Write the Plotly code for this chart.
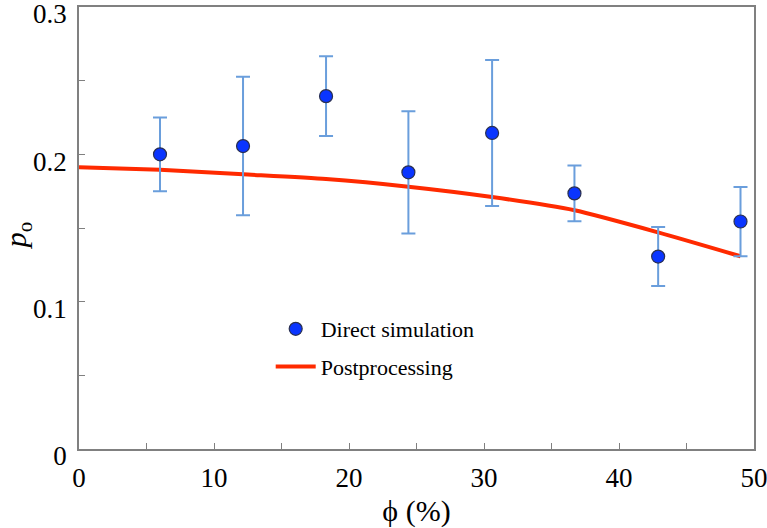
import plotly.graph_objects as go

# Direct simulation data
phi_sim = [6.0, 12.15, 18.3, 24.4, 30.6, 36.7, 42.9, 49.0]
p_sim = [0.200, 0.2056, 0.2395, 0.1878, 0.2145, 0.1735, 0.1306, 0.1544]
p_err = [0.025, 0.047, 0.027, 0.0415, 0.0495, 0.019, 0.020, 0.0235]

# Postprocessing curve
phi_post = [0, 6.0, 12.15, 18.3, 24.4, 30.6, 36.7, 42.9, 49.0]
p_post = [0.1913, 0.1895, 0.1864, 0.1832, 0.1780, 0.1710, 0.1620, 0.1470, 0.1308]

x_ticks = [0, 10, 20, 30, 40, 50]
y_ticks = [0, 0.1, 0.2, 0.3]
y_tick_labels = ["0", "0.1", "0.2", "0.3"]

font_family = "Liberation Serif, Times New Roman, serif"

fig = go.Figure()

fig.add_trace(go.Scatter(
    x=phi_post, y=p_post, mode="lines", name="Postprocessing",
    line=dict(color="#ff2a00", width=4, shape="spline", smoothing=0.6),
    legendgroup="b", legendrank=2,
))

fig.add_trace(go.Scatter(
    x=phi_sim, y=p_sim, mode="markers", name="Direct simulation",
    marker=dict(color="#0a35ff", size=13, line=dict(color="#2a3050", width=1.2)),
    error_y=dict(type="data", array=p_err, visible=True, color="#6a9edc",
                 thickness=2, width=7),
    legendgroup="a", legendrank=1,
))

fig.update_layout(
    width=767, height=528,
    margin=dict(l=79, r=13, t=7, b=79),
    paper_bgcolor="white", plot_bgcolor="white",
    font=dict(family=font_family, color="black"),
    showlegend=True,
    legend=dict(
        x=0.284, y=0.319, xanchor="left", yanchor="top",
        font=dict(size=22, family=font_family),
        bgcolor="rgba(0,0,0,0)", traceorder="grouped",
        tracegroupgap=6, itemwidth=40,
    ),
    xaxis=dict(
        range=[0, 50], tickvals=x_ticks, ticks="inside", ticklen=6,
        tickcolor="#808080", showline=True, linecolor="#808080", linewidth=1.5,
        mirror=True, showgrid=False, zeroline=False, automargin=False,
        ticklabeloverflow="allow", ticklabelstandoff=4,
        tickfont=dict(size=27, family=font_family),
        minor=dict(tickvals=[5, 15, 25, 35, 45], ticks="inside", ticklen=6, tickcolor="#808080"),
        title=dict(text="\u03d5 (%)", font=dict(size=30, family=font_family)),
    ),
    yaxis=dict(
        range=[0, 0.3], tickvals=y_ticks, ticktext=y_tick_labels, ticks="inside", ticklen=6,
        tickcolor="#808080", showline=True, linecolor="#808080", linewidth=1.5,
        mirror=True, showgrid=False, zeroline=False, automargin=False,
        ticklabeloverflow="allow", ticklabelshift=7, ticklabelstandoff=5,
        tickfont=dict(size=27, family=font_family),
        minor=dict(tickvals=[0.05, 0.15, 0.25], ticks="inside", ticklen=6, tickcolor="#808080"),
    ),
    annotations=[dict(
        text="<i>p</i><sub>o</sub>", textangle=-90, showarrow=False,
        xref="paper", yref="paper", x=-0.09, y=0.484,
        xanchor="center", yanchor="middle", borderpad=0,
        font=dict(size=30, family=font_family, color="black"),
    )],
)

fig.write_html("out.html", config={"displayModeBar": False},
               post_script="document.body.style.margin='0';")
